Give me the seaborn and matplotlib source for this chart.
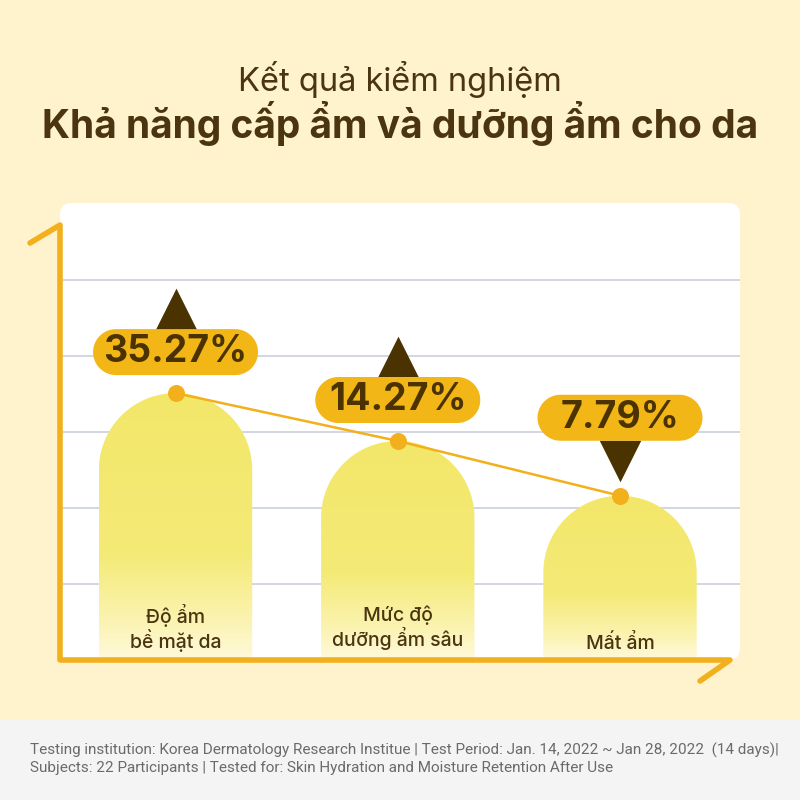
import numpy as np
import pandas as pd
import matplotlib
matplotlib.use("Agg")
import matplotlib.pyplot as plt
import seaborn as sns
from matplotlib.patches import FancyBboxPatch, PathPatch, Rectangle, Polygon
from matplotlib.path import Path
from matplotlib.colors import LinearSegmentedColormap

# --- data ---
categories = ["Độ ẩm\nbề mặt da", "Mức độ\ndưỡng ẩm sâu", "Mất ẩm"]
changes = [35.27, 14.27, 7.79]          # % change shown in the labels
directions = ["up", "up", "down"]
bar_levels = [3.51, 2.88, 2.16]          # visual bar height, grid units
title_top = "Kết quả kiểm nghiệm"
title_main = "Khả năng cấp ẩm và dưỡng ẩm cho da"
footnote = ("Testing institution: Korea Dermatology Research Institue | Test Period: Jan. 14, 2022 ~ Jan 28, 2022  (14 days)|\n"
            "Subjects: 22 Participants | Tested for: Skin Hydration and Moisture Retention After Use")

df = pd.DataFrame({"category": categories, "level": bar_levels,
                   "change": changes, "direction": directions})

# colours
BG = "#FFF3CE"
BROWN = "#4A3510"
ORANGE = "#F2B01C"
PILL = "#F3B617"
GRID = "#C6CBDA"

sns.set_theme(style="white")
plt.rcParams["font.family"] = ["Inter", "Noto Sans", "DejaVu Sans"]

fig = plt.figure(figsize=(8, 8), dpi=100)
fig.patch.set_facecolor(BG)

# background layer in pixel coordinates for the decorations
bg = fig.add_axes([0, 0, 1, 1])
bg.set_xlim(0, 800)
bg.set_ylim(800, 0)
bg.axis("off")
bg.set_zorder(0)

bg.add_patch(Rectangle((0, 720), 800, 80, color="#F4F4F4", lw=0))
bg.add_patch(FancyBboxPatch((60, 203), 680, 457, boxstyle="round,pad=0,rounding_size=12",
                            fc="white", ec="none"))

bg.text(400, 80, title_top, ha="center", va="center", fontsize=23.5, color=BROWN)
bg.text(400, 124, title_main, ha="center", va="center", fontsize=28,
        fontweight="bold", color=BROWN)
bg.text(30, 759, footnote, ha="left", va="center", fontsize=11, color="#6A6A6A",
        linespacing=1.25, family=["Liberation Sans Narrow", "Roboto", "DejaVu Sans"])

# chart axes over the white panel
ax = fig.add_axes([60 / 800, 1 - 660 / 800, 680 / 800, 457 / 800])
ax.set_zorder(1)
ax.patch.set_alpha(0)
sns.barplot(data=df, x="category", y="level", ax=ax, width=0.69, color="#F3E86C")
ax.set_xlim(-0.52, 2.54)
ax.set_ylim(0, 6.01)
for s in ax.spines.values():
    s.set_visible(False)
ax.set_xticks([])
ax.set_yticks([])
ax.set_xlabel("")
ax.set_ylabel("")
for g in range(1, 6):
    ax.axhline(g, color=GRID, lw=1.1, zorder=0.5)

# pixel scale to get round shapes in data coords
px_x = 680 / (2.54 + 0.52)
px_y = 457 / 6.01

cmap = LinearSegmentedColormap.from_list(
    "bar", [(0, "#FFF9DC"), (0.15, "#FBF3B0"), (0.4, "#F4EA76"), (1, "#F3E76A")])
grad = np.linspace(0, 1, 256).reshape(-1, 1)

for patch in list(ax.patches):
    x0 = patch.get_x()
    w = patch.get_width()
    h = patch.get_height()
    patch.set_visible(False)
    rx = w / 2
    ry = rx * px_x / px_y
    cx = x0 + rx
    th = np.linspace(np.pi, 0, 60)
    verts = [(x0, 0), (x0, h - ry)]
    verts += list(zip(cx + rx * np.cos(th), h - ry + ry * np.sin(th)))
    verts += [(x0 + w, 0), (x0, 0)]
    codes = [Path.MOVETO] + [Path.LINETO] * (len(verts) - 2) + [Path.CLOSEPOLY]
    clip = PathPatch(Path(verts, codes), transform=ax.transData, fc="none", ec="none")
    ax.add_patch(clip)
    im = ax.imshow(grad, extent=(x0, x0 + w, 0, h), origin="lower", cmap=cmap,
                   aspect="auto", zorder=1)
    im.set_clip_path(clip)

ax.set_xlim(-0.52, 2.54)
ax.set_ylim(0, 6.01)


def pill(cx, cy, w_px, h_px):
    r = h_px / 2
    half = (w_px / 2 - r)
    t = np.linspace(-np.pi / 2, np.pi / 2, 30)
    right = [(cx + (half + r * np.cos(a)) / px_x, cy + r * np.sin(a) / px_y) for a in t]
    left = [(cx + (-half - r * np.cos(a)) / px_x, cy - r * np.sin(a) / px_y) for a in t]
    return right + left


# connecting line with dots
xs = np.arange(len(df))
ax.plot(xs, df["level"], color=ORANGE, lw=1.8, zorder=3)
ax.scatter(xs, df["level"], s=150, color=ORANGE, zorder=4, linewidths=0)

# labels, pills and arrows
for i, row in df.iterrows():
    lvl = row["level"]
    if row["direction"] == "up":
        pill_y = lvl + 41 / px_y
        tri_y = lvl + 84 / px_y
        marker = "^"
    else:
        pill_y = lvl + 78 / px_y
        tri_y = lvl + 35 / px_y
        marker = "v"
    ax.scatter([i], [tri_y], marker=marker, s=900, color="#4A3300", zorder=5, linewidths=0)
    ax.add_patch(Polygon(pill(i, pill_y, 165, 46), closed=True, fc=PILL, ec="none", zorder=6))
    num = f"{row['change']:.2f}"
    ax.text(i, pill_y, num + "%", ha="center", va="center", fontsize=27,
            fontweight="bold", color="#4A3300", zorder=7)
    ax.text(i, 0.42 if "\n" in row["category"] else 0.22, row["category"],
            ha="center", va="center", fontsize=14, color=BROWN, zorder=6,
            linespacing=1.1, fontweight="medium")

# orange axis lines with hooks
bg2 = fig.add_axes([0, 0, 1, 1])
bg2.set_xlim(0, 800)
bg2.set_ylim(800, 0)
bg2.axis("off")
bg2.set_zorder(2)
bg2.patch.set_alpha(0)
bg2.plot([30, 60, 60, 730, 700], [243, 225, 660, 660, 681], color=ORANGE, lw=4,
         solid_joinstyle="round", solid_capstyle="round")

fig.savefig("out.png", dpi=100, facecolor=BG)
